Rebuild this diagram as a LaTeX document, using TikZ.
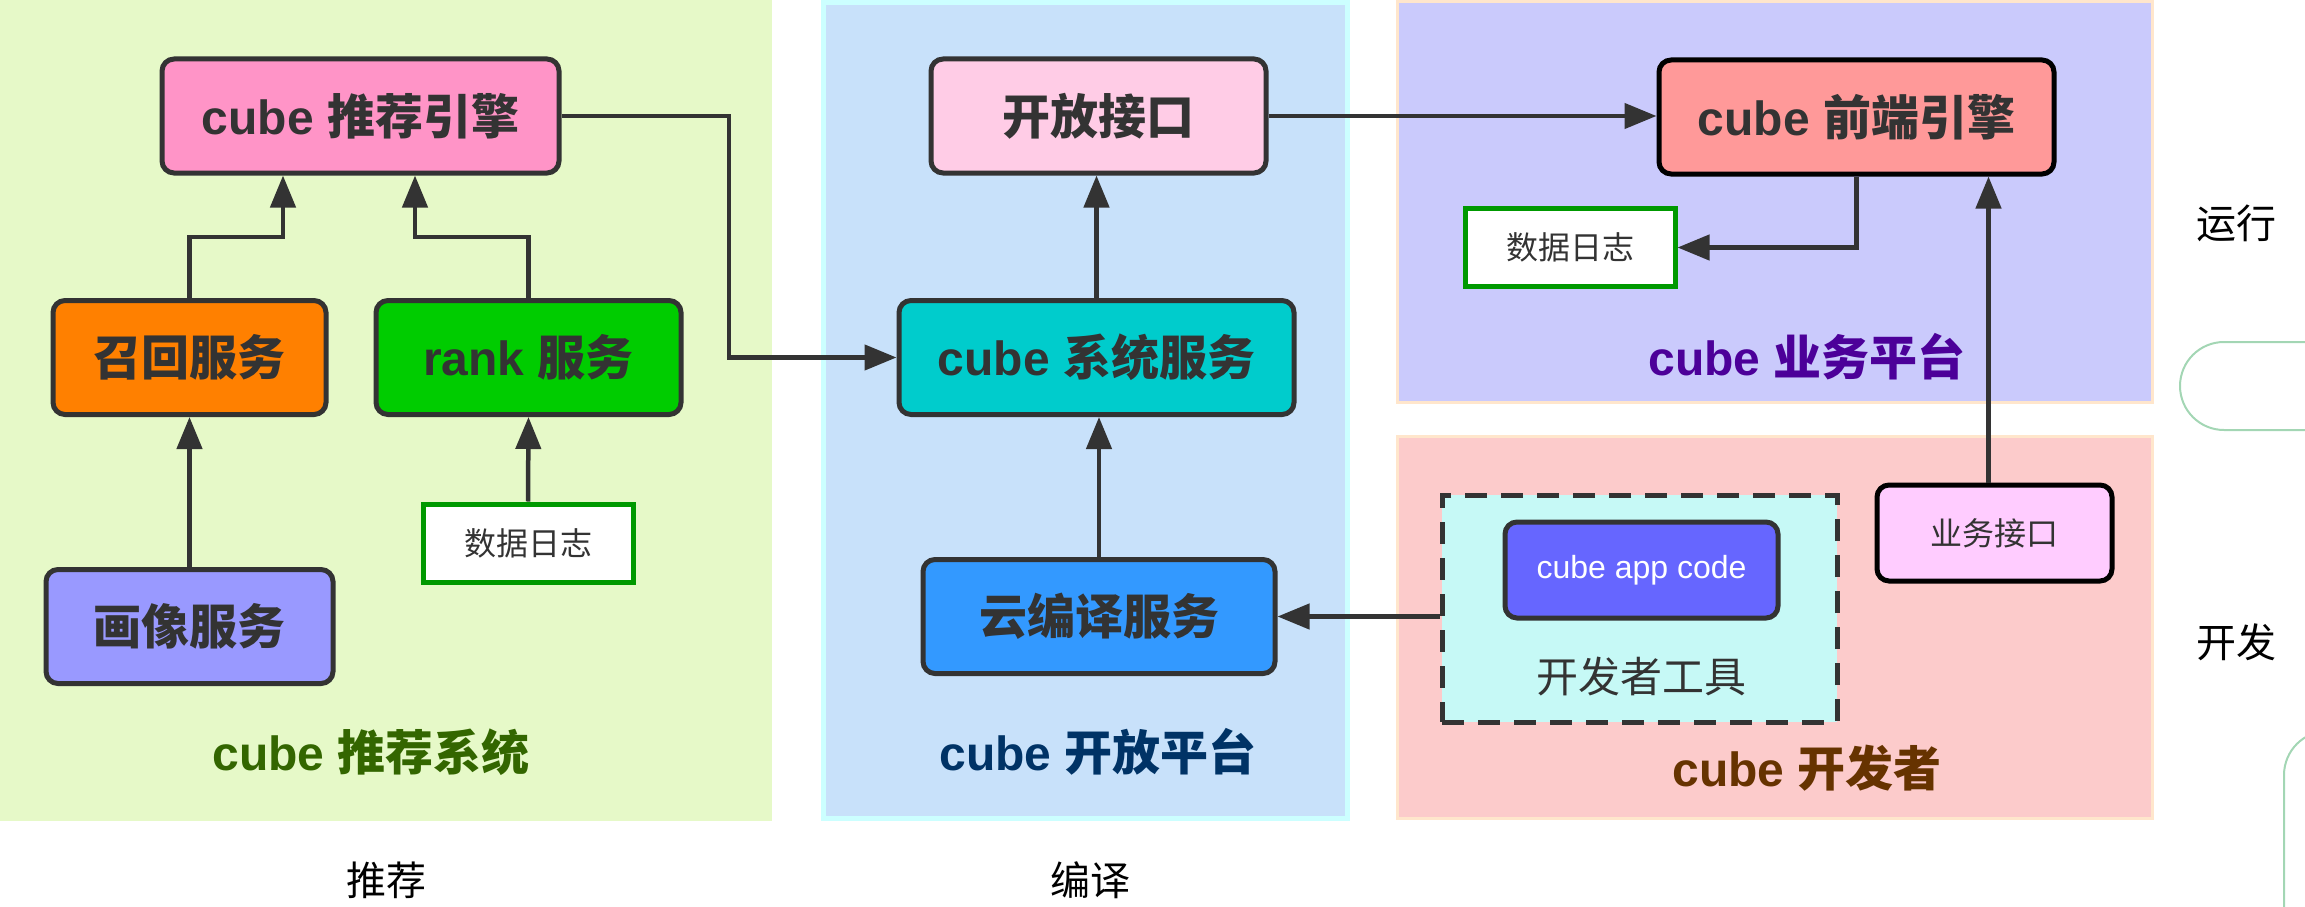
\documentclass[tikz,border=0pt]{standalone}
\usepackage{fontspec}
\setmainfont{Liberation Sans}
\newfontfamily\cjk{Noto Sans CJK SC}
\usetikzlibrary{arrows.meta,calc}
\definecolor{ink}{HTML}{333333}
\definecolor{regGreen}{HTML}{E6F9C8}
\definecolor{regBlue}{HTML}{C8E1FA}
\definecolor{regBlueEdge}{HTML}{CCFFFF}
\definecolor{regPurple}{HTML}{CACAFC}
\definecolor{regPink}{HTML}{FCCBCB}
\definecolor{regEdge}{HTML}{FFE6CC}
\definecolor{cRec}{HTML}{FF94C7}
\definecolor{cRecall}{HTML}{FF8000}
\definecolor{cRank}{HTML}{00CC00}
\definecolor{cProfile}{HTML}{9999FF}
\definecolor{cOpen}{HTML}{FFCCE6}
\definecolor{cSys}{HTML}{00CCCC}
\definecolor{cCompile}{HTML}{3399FF}
\definecolor{cFront}{HTML}{FF9999}
\definecolor{cBiz}{HTML}{FFCCFF}
\definecolor{cApp}{HTML}{6666FF}
\definecolor{cTool}{HTML}{C6F9F6}
\definecolor{logGreen}{HTML}{009900}
\definecolor{tGreen}{HTML}{336600}
\definecolor{tBlue}{HTML}{003366}
\definecolor{tPurple}{HTML}{4C0099}
\definecolor{tBrown}{HTML}{663300}
\definecolor{sideGreen}{HTML}{A3D6B4}
\newcommand\zh[1]{{\cjk #1}}
\newcommand\bigfont{\fontsize{48}{56}\selectfont\bfseries}
\newcommand\smallfont{\fontsize{32}{38}\selectfont}
\newcommand\toolfont{\fontsize{42}{50}\selectfont}
\newcommand\sidefont{\fontsize{40}{48}\selectfont}
\begin{document}
\begin{tikzpicture}[x=1pt,y=-1pt,
  box/.style={draw=ink, line width=5pt, rounded corners=12pt, text=ink, font=\bigfont, inner sep=0pt, minimum height=114pt},
  logbox/.style={draw=logGreen, line width=5pt, fill=white, text=ink, font=\smallfont, inner sep=0pt, minimum width=210pt, minimum height=78pt},
  arr/.style={draw=ink, line width=4.5pt, -{Triangle[length=32pt,width=25pt]}},
  region/.style={font=\bigfont},
  side/.style={font=\sidefont, text=black}]
\useasboundingbox (0,0) rectangle (2305,907);
% regions
\fill[regGreen] (0,0) rectangle (772,821);
\filldraw[fill=regBlue, draw=regBlueEdge, line width=5pt] (823,2.5) rectangle (1347,818);
\filldraw[fill=regPurple, draw=regEdge, line width=3pt] (1397,1.5) rectangle (2152,402);
\filldraw[fill=regPink, draw=regEdge, line width=3pt] (1397,436) rectangle (2152,818);
% decorative shapes at right edge
\begin{scope}
\clip (0,0) rectangle (2305,907);
\draw[sideGreen, line width=2pt, rounded corners=44pt] (2180,342) rectangle (2420,430);
\draw[sideGreen, line width=2pt, rounded corners=44pt] (2284,731) rectangle (2420,1100);
\end{scope}
% nodes: recommendation
\node[box, fill=cRec, minimum width=397pt] (rec) at (360.5,116) {cube \zh{推荐引擎}};
\node[box, fill=cRecall, minimum width=273pt] (recall) at (189.5,357.5) {\zh{召回服务}};
\node[box, fill=cRank, minimum width=305pt] (rank) at (528.5,357.5) {rank \zh{服务}};
\node[box, fill=cProfile, minimum width=287pt] (profile) at (189.5,626.5) {\zh{画像服务}};
\node[logbox] (logL) at (528,543) {\zh{数据日志}};
\node[region, text=tGreen] (lblRec) at (371,752) {cube \zh{推荐系统}};
% open platform
\node[box, fill=cOpen, minimum width=335pt] (open) at (1098.5,116) {\zh{开放接口}};
\node[box, fill=cSys, minimum width=395pt] (sys) at (1096.5,357.5) {cube \zh{系统服务}};
\node[box, fill=cCompile, minimum width=352pt] (compile) at (1099,616.5) {\zh{云编译服务}};
\node[region, text=tBlue] (lblOpen) at (1098,752) {cube \zh{开放平台}};
% business platform
\node[box, draw=black, fill=cFront, minimum width=395pt] (front) at (1856.5,117) {cube \zh{前端引擎}};
\node[logbox] (logR) at (1570,247.5) {\zh{数据日志}};
\node[region, text=tPurple] (lblBiz) at (1807,357) {cube \zh{业务平台}};
% developer
\node[draw=ink, line width=5pt, dash pattern=on 22pt off 14pt, fill=cTool, minimum width=395pt, minimum height=227pt, inner sep=0pt] (tool) at (1639.5,608.5) {};
\node[draw=ink, line width=5pt, rounded corners=12pt, fill=cApp, text=white, font=\smallfont, minimum width=273pt, minimum height=96pt, inner sep=0pt] (app) at (1641.5,570) {cube app code};
\node[font=\toolfont, text=ink] (toolLbl) at (1641,677) {\zh{开发者工具}};
\node[draw=black, line width=5pt, rounded corners=12pt, fill=cBiz, text=ink, font=\smallfont, minimum width=235pt, minimum height=96pt, inner sep=0pt] (biz) at (1994.5,533) {\zh{业务接口}};
\node[region, text=tBrown] (lblDev) at (1807,768) {cube \zh{开发者}};
% side labels
\node[side] (sRun) at (2236,223) {\zh{运行}};
\node[side] (sDev) at (2236,642) {\zh{开发}};
\node[side] (sRec) at (386,880) {\zh{推荐}};
\node[side] (sCmp) at (1090,880) {\zh{编译}};
% bend points
\coordinate (b1) at (283,237);
\coordinate (b2) at (415,237);
\coordinate (b3) at (729,357.5);
% connectors
\draw[arr] (recall.north) |- (b1) -- (b1 |- rec.south);
\draw[arr] (rank.north) |- (b2) -- (b2 |- rec.south);
\draw[arr] (rec.east) -| (b3) -- (sys.west);
\draw[arr] (profile.north) -- (recall.south);
\draw[arr] (logL.north) -- (rank.south);
\draw[arr] (sys.north) -- (sys.north |- open.south);
\draw[arr] (compile.north) -- (compile.north |- sys.south);
\draw[arr] (open.east) -- (open.east -| front.west);
\draw[arr] (front.south) |- (logR.east);
\draw[arr] ($(biz.north)+(-6,0)$) -- ($(biz.north |- front.south)+(-6,0)$);
\draw[arr] (tool.west |- compile.east) -- (compile.east);
\end{tikzpicture}
\end{document}
